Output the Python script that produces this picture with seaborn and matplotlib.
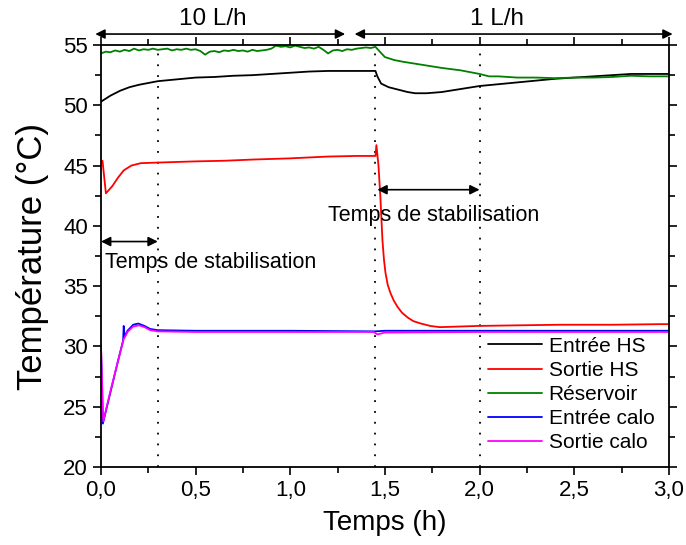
import pandas as pd
import matplotlib
matplotlib.use("Agg")
import matplotlib.pyplot as plt
from matplotlib.ticker import MultipleLocator, FuncFormatter
import seaborn as sns

# Entrée HS (black)
t_entree_hs = [0.0, 0.05, 0.1, 0.15, 0.2, 0.3, 0.4, 0.5, 0.6, 0.7, 0.8, 0.9, 1.0, 1.1,
               1.2, 1.3, 1.45, 1.46, 1.48, 1.52, 1.57, 1.62, 1.66, 1.72, 1.8, 1.9, 2.0,
               2.1, 2.2, 2.3, 2.4, 2.5, 2.6, 2.7, 2.8, 2.9, 3.0]
v_entree_hs = [50.3, 50.8, 51.2, 51.5, 51.7, 52.0, 52.15, 52.3, 52.35, 52.45, 52.5, 52.6,
               52.7, 52.8, 52.85, 52.85, 52.85, 52.4, 51.8, 51.5, 51.3, 51.1, 51.0, 51.0,
               51.1, 51.35, 51.6, 51.75, 51.9, 52.05, 52.2, 52.3, 52.4, 52.5, 52.6, 52.6, 52.6]

# Sortie HS (red)
t_sortie_hs = [0.0, 0.008, 0.026, 0.06, 0.09, 0.12, 0.16, 0.21, 0.3, 0.5, 0.65, 0.8, 1.0,
               1.2, 1.35, 1.45, 1.455, 1.466, 1.476, 1.487, 1.495, 1.503, 1.515, 1.53,
               1.547, 1.566, 1.59, 1.62, 1.65, 1.69, 1.74, 1.79, 1.99, 2.2, 2.43, 2.7,
               2.96, 3.0]
v_sortie_hs = [45.3, 45.4, 42.7, 43.3, 44.0, 44.6, 45.0, 45.2, 45.25, 45.35, 45.4, 45.5,
               45.6, 45.75, 45.8, 45.8, 46.7, 45.0, 42.4, 38.8, 37.2, 36.1, 35.1, 34.4,
               33.8, 33.3, 32.8, 32.4, 32.1, 31.9, 31.7, 31.6, 31.7, 31.75, 31.8, 31.8,
               31.85, 31.85]

# Réservoir (green)
t_reservoir = [0.0, 0.025, 0.05, 0.075, 0.1, 0.125, 0.15, 0.175, 0.2, 0.225, 0.25, 0.275,
               0.3, 0.325, 0.35, 0.375, 0.4, 0.425, 0.45, 0.475, 0.5, 0.525, 0.55, 0.575,
               0.6, 0.625, 0.65, 0.675, 0.7, 0.725, 0.75, 0.775, 0.8, 0.825, 0.85, 0.875,
               0.9, 0.925, 0.95, 0.975, 1.0, 1.025, 1.05, 1.075, 1.1, 1.125, 1.15, 1.175,
               1.2, 1.225, 1.25, 1.275, 1.3, 1.325, 1.35, 1.375, 1.4, 1.425, 1.45,
               1.47, 1.5, 1.55, 1.6, 1.7, 1.8, 1.9, 2.0, 2.05, 2.1, 2.2, 2.3, 2.4, 2.5,
               2.6, 2.7, 2.8, 2.9, 3.0]
v_reservoir = [54.3, 54.45, 54.4, 54.55, 54.45, 54.6, 54.5, 54.7, 54.55, 54.65, 54.6, 54.7,
               54.6, 54.65, 54.7, 54.55, 54.65, 54.6, 54.7, 54.6, 54.65, 54.5, 54.2, 54.45,
               54.5, 54.4, 54.55, 54.5, 54.6, 54.5, 54.55, 54.45, 54.6, 54.5, 54.55, 54.6,
               54.7, 54.95, 54.85, 54.9, 54.8, 54.95, 54.85, 54.75, 54.8, 54.7, 54.85, 54.6,
               54.3, 54.55, 54.6, 54.5, 54.65, 54.6, 54.7, 54.75, 54.8, 54.75, 54.85,
               54.5, 54.0, 53.75, 53.6, 53.35, 53.1, 52.9, 52.6, 52.4, 52.4, 52.3, 52.3,
               52.25, 52.3, 52.3, 52.35, 52.45, 52.4, 52.4]

# Entrée calo (blue)
t_entree_calo = [0.0, 0.01, 0.05, 0.09, 0.117, 0.12, 0.125, 0.14, 0.17, 0.197, 0.23,
                 0.26, 0.3, 0.5, 1.0, 1.45, 1.5, 2.0, 2.5, 3.0]
v_entree_calo = [30.0, 23.6, 26.2, 28.8, 30.5, 31.7, 30.8, 31.3, 31.8, 31.9, 31.7,
                 31.45, 31.35, 31.3, 31.3, 31.25, 31.3, 31.3, 31.3, 31.3]

# Sortie calo (magenta)
t_sortie_calo = [0.0, 0.012, 0.05, 0.09, 0.12, 0.14, 0.17, 0.2, 0.23, 0.26, 0.3, 0.5,
                 1.0, 1.44, 1.46, 1.5, 2.0, 2.5, 3.0]
v_sortie_calo = [30.2, 23.8, 26.3, 28.8, 30.6, 31.2, 31.65, 31.75, 31.6, 31.35, 31.25,
                 31.2, 31.2, 31.2, 31.0, 31.15, 31.2, 31.2, 31.2]

series_names = ["Entrée HS", "Sortie HS", "Réservoir", "Entrée calo", "Sortie calo"]
series_colors = ["black", "red", "green", "blue", "magenta"]

frames = []
for name, t, v in zip(series_names,
                      [t_entree_hs, t_sortie_hs, t_reservoir, t_entree_calo, t_sortie_calo],
                      [v_entree_hs, v_sortie_hs, v_reservoir, v_entree_calo, v_sortie_calo]):
    frames.append(pd.DataFrame({"t": t, "T": v, "serie": name}))
df = pd.concat(frames, ignore_index=True)

sns.set_style("ticks")
plt.rcParams['font.family'] = ['Liberation Sans', 'DejaVu Sans']
for key in ["text.color", "axes.labelcolor", "xtick.color", "ytick.color", "axes.edgecolor"]:
    plt.rcParams[key] = "black"

fig = plt.figure(figsize=(6.86, 5.45), dpi=100)
ax = fig.add_axes([0.1472, 0.1431, 0.8278, 0.7743])

sns.lineplot(data=df, x="t", y="T", hue="serie", hue_order=series_names,
             palette=dict(zip(series_names, series_colors)), sort=False,
             estimator=None, linewidth=1.3, ax=ax)

# dotted markers of the stabilisation times
for xv in [0.3, 1.45, 2.0]:
    ax.axvline(xv, color="black", linestyle=(0, (1, 5)), linewidth=1.3, zorder=0)

ax.set_xlim(0, 3.0)
ax.set_ylim(20, 55)
ax.xaxis.set_major_locator(MultipleLocator(0.5))
ax.xaxis.set_minor_locator(MultipleLocator(0.25))
ax.yaxis.set_major_locator(MultipleLocator(5))
ax.yaxis.set_minor_locator(MultipleLocator(2.5))
ax.xaxis.set_major_formatter(FuncFormatter(lambda x, p: f"{x:.1f}".replace(".", ",")))
ax.tick_params(which="both", top=True, right=True, width=1.2, labelsize=16)
ax.tick_params(which="major", length=6)
ax.tick_params(which="minor", length=4)
for sp in ax.spines.values():
    sp.set_linewidth(1.3)

ax.set_xlabel("Temps (h)", fontsize=20, labelpad=6)
ax.set_ylabel("Température (°C)", fontsize=25, labelpad=10)

# flow-rate arrows above the axes
arrow = dict(arrowstyle="<|-|>", color="black", lw=1.2, mutation_scale=14,
             shrinkA=0, shrinkB=0)
trans = ax.get_xaxis_transform()
ax.annotate("", xy=(-0.03, 1.026), xytext=(1.29, 1.026), xycoords=trans,
            textcoords=trans, arrowprops=arrow, annotation_clip=False)
ax.annotate("", xy=(1.34, 1.026), xytext=(3.02, 1.026), xycoords=trans,
            textcoords=trans, arrowprops=arrow, annotation_clip=False)
ax.text(0.59, 1.062, "10 L/h", transform=trans, ha="center", va="center", fontsize=17.5)
ax.text(2.09, 1.062, "1 L/h", transform=trans, ha="center", va="center", fontsize=17.5)

# stabilisation time arrows
ax.annotate("", xy=(0.0, 38.7), xytext=(0.3, 38.7), arrowprops=arrow)
ax.text(0.02, 37.0, "Temps de stabilisation", ha="left", va="center", fontsize=15.5)
ax.annotate("", xy=(1.46, 43.0), xytext=(2.0, 43.0), arrowprops=arrow)
ax.text(1.2, 40.9, "Temps de stabilisation", ha="left", va="center", fontsize=15.5)

ax.legend(loc="lower right", frameon=False, fontsize=15, handlelength=2.6,
          labelspacing=0.25, handletextpad=0.3, borderaxespad=0.3)

fig.savefig("out.png", dpi=100)
